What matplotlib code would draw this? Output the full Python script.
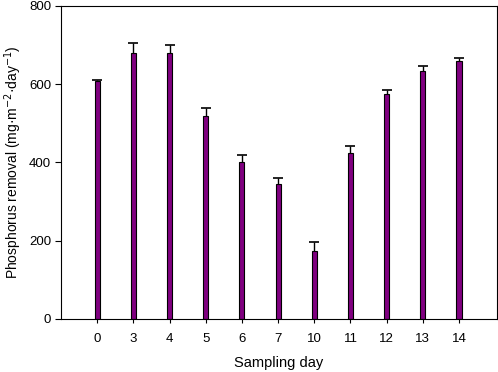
import matplotlib
matplotlib.use("Agg")
import matplotlib.pyplot as plt
import numpy as np

plt.rcParams['font.family'] = ['Liberation Sans', 'DejaVu Sans']

# Values
days = ["0", "3", "4", "5", "6", "7", "10", "11", "12", "13", "14"]
removal = [608, 681, 681, 519, 402, 345, 173, 425, 575, 634, 659]
errors = [2, 24, 20, 19, 16, 16, 23, 18, 11, 13, 8]

fig = plt.figure(figsize=(4.98, 3.72), dpi=100)
ax = fig.add_axes([0.1225, 0.1425, 0.8755, 0.8415])

x = np.arange(len(days))
ax.bar(x, removal, width=0.14, color="#800080", edgecolor="black", linewidth=0.8)

# upper error bars only
tops = np.array(removal) + np.array(errors)
ax.vlines(x, removal, tops, color="black", linewidth=1.0)
ax.plot(x, tops, linestyle="none", marker="_", markersize=7, markeredgewidth=1.2, color="black")

ax.set_xlim(-1, 11.05)
ax.set_ylim(0, 800)
ax.set_yticks([0, 200, 400, 600, 800])
ax.set_xticks(x)
ax.set_xticklabels(days)

ax.tick_params(axis="both", direction="out", labelsize=9.5, width=0.8)
ax.tick_params(axis="y", length=4, pad=3)
ax.tick_params(axis="x", length=3, pad=7)
for s in ax.spines.values():
    s.set_linewidth(0.8)

ax.set_xlabel("Sampling day", fontsize=10.5, labelpad=8)
ax.set_ylabel("Phosphorus removal (mg\u00b7m$^{-2}$\u00b7day$^{-1}$)", fontsize=10, labelpad=4)

fig.savefig("out.png", dpi=100)
